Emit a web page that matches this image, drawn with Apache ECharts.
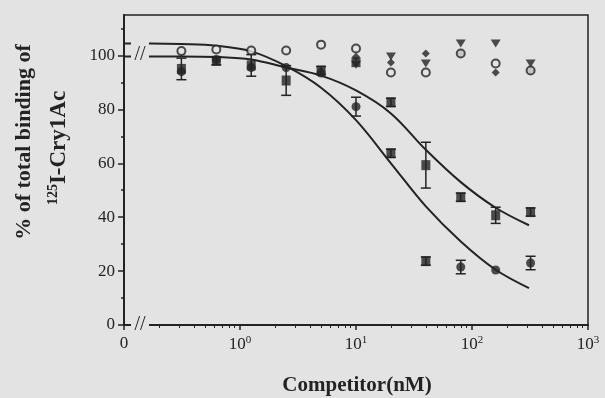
<!DOCTYPE html>
<html>
<head>
<meta charset="utf-8">
<script src="https://cdn.jsdelivr.net/npm/echarts@6/dist/echarts.min.js"></script>
<style>
  html, body { margin: 0; padding: 0; background: #e3e3e3; }
  #chart { width: 605px; height: 398px; }
</style>
</head>
<body>
<div id="chart"></div>
<script>
// competitor concentrations (nM)
const conc = [0.3125, 0.625, 1.25, 2.5, 5, 10, 20, 40, 80, 160, 320];
const openCircles = [101.6, 102.2, 101.8, 101.8, 104, 102.6, 93.7, 93.7, 100.7, 97, 94.4];
const triangles = [null, null, null, null, null, 96.5, 99.6, 97, 104.4, 104.4, 97];
const diamonds = [null, null, null, null, null, 99.5, 97.4, 100.7, 100.7, 93.7, 94.4];
const squares = [95, 98, 96.3, 90.7, 94.4, 97.5, 82.6, 59.3, 47.4, 40.7, 41.9];
const squaresErr = [4, 1.5, 4, 5.5, 1.5, 0, 1.5, 8.5, 1.5, 3, 1.5];
const squaresLow = [null, null, null, null, null, null, 63.7, 23.7, null, null, null];
const squaresLowErr = [0, 0, 0, 0, 0, 0, 1.5, 1.5, 0, 0, 0];
const circles = [94, 98.5, 95.5, 95.5, 93.5, 81, null, null, 21.5, 20.4, 23];
const circlesErr = [0, 0, 0, 0, 0, 3.5, 0, 0, 2.5, 0, 2.5];
// fitted curves
const curveConc = [0.1, 0.17, 0.3125, 0.625, 1.25, 2.5, 5, 10, 20, 40, 80, 160, 310];
const curveSteep = [104.4, 104.4, 104.2, 103.6, 101.5, 96, 88, 76, 60, 44, 31, 20.5, 13.7];
const curveShallow = [99.6, 99.6, 99.6, 99.4, 98.5, 95.5, 92.5, 87, 78.5, 65, 53, 43.5, 37];
const yMajor = [0, 20, 40, 60, 80, 100];
const yMinor = [10, 30, 50, 70, 90, 110];

const ink = '#232323';
const bg = '#e3e3e3';
const serif = '"Liberation Serif", "DejaVu Serif", serif';

const xMinor = [];
[0.1, 1, 10, 100].forEach(d => {
  for (let m = 2; m <= 9; m++) xMinor.push(+(m * d).toPrecision(3));
});

const pairs = (xs, ys) => xs.map((x, i) => [x, ys[i]]).filter(p => p[1] != null);

function errorBars(values, errs) {
  const data = [];
  conc.forEach((c, i) => {
    if (values[i] != null && errs[i] > 0) data.push([c, values[i] - errs[i], values[i] + errs[i]]);
  });
  return {
    type: 'custom',
    data: data,
    z: 3,
    encode: { x: 0, y: [1, 2] },
    renderItem: (params, api) => {
      const lo = api.coord([api.value(0), api.value(1)]);
      const hi = api.coord([api.value(0), api.value(2)]);
      const w = 5;
      const st = { stroke: ink, lineWidth: 1.5 };
      return {
        type: 'group',
        children: [
          { type: 'line', shape: { x1: lo[0], y1: lo[1], x2: hi[0], y2: hi[1] }, style: st },
          { type: 'line', shape: { x1: lo[0] - w, y1: lo[1], x2: lo[0] + w, y2: lo[1] }, style: st },
          { type: 'line', shape: { x1: hi[0] - w, y1: hi[1], x2: hi[0] + w, y2: hi[1] }, style: st }
        ]
      };
    }
  };
}

const chart = echarts.init(document.getElementById('chart'));
chart.setOption({
  backgroundColor: bg,
  animation: false,
  grid: {
    left: 124, right: 17, top: 15, bottom: 73,
    show: true, borderColor: ink, borderWidth: 1.5, backgroundColor: 'transparent'
  },
  xAxis: [
    {
      type: 'log', logBase: 10, min: 0.1, max: 1000,
      axisLine: { lineStyle: { color: ink, width: 2 } },
      axisTick: { length: 5, lineStyle: { color: ink, width: 1.5 } },
      splitLine: { show: false },
      axisLabel: {
        margin: 10,
        formatter: v => {
          const p = Math.round(Math.log10(v));
          return p === -1 ? '{b|0}' : '{b|10}{sup|' + p + '}';
        },
        rich: {
          b: { fontFamily: serif, fontSize: 17, color: ink },
          sup: { fontFamily: serif, fontSize: 11, color: ink, padding: [0, 0, 9, 0] }
        }
      }
    },
    {
      type: 'log', logBase: 10, min: 0.1, max: 1000, position: 'bottom',
      axisLine: { show: false },
      axisLabel: { show: false },
      splitLine: { show: false },
      axisTick: { customValues: xMinor, length: 3, lineStyle: { color: ink, width: 1 } }
    }
  ],
  yAxis: [
    {
      type: 'value', min: 0, max: 115, position: 'left',
      axisLine: { show: true, lineStyle: { color: ink, width: 2 } },
      splitLine: { show: false },
      axisTick: { customValues: yMajor, length: 6, lineStyle: { color: ink, width: 1.5 } },
      axisLabel: { customValues: yMajor, margin: 9, fontFamily: serif, fontSize: 17, color: ink }
    },
    {
      type: 'value', min: 0, max: 115, position: 'left', offset: 0,
      axisLine: { show: false },
      splitLine: { show: false },
      axisLabel: { show: false },
      axisTick: { customValues: yMinor, length: 3, lineStyle: { color: ink, width: 1.5 } }
    }
  ],
  series: [
    {
      type: 'line', data: pairs(curveConc, curveSteep), smooth: 0.35, showSymbol: false, z: 2,
      lineStyle: { color: ink, width: 2 }
    },
    {
      type: 'line', data: pairs(curveConc, curveShallow), smooth: 0.35, showSymbol: false, z: 2,
      lineStyle: { color: ink, width: 2 }
    },
    errorBars(squares, squaresErr),
    errorBars(squaresLow, squaresLowErr),
    errorBars(circles, circlesErr),
    {
      type: 'scatter', data: pairs(conc, squares), symbol: 'rect', symbolSize: [9, 10], z: 4,
      itemStyle: { color: ink }
    },
    {
      type: 'scatter', data: pairs(conc, squaresLow), symbol: 'rect', symbolSize: [9, 10], z: 4,
      itemStyle: { color: ink }
    },
    {
      type: 'scatter', data: pairs(conc, circles), symbol: 'circle', symbolSize: 9, z: 4,
      itemStyle: { color: ink }
    },
    {
      type: 'scatter', data: pairs(conc, triangles), symbol: 'triangle', symbolRotate: 180,
      symbolSize: [10, 8], z: 4, itemStyle: { color: ink }
    },
    {
      type: 'scatter', data: pairs(conc, diamonds), symbol: 'diamond', symbolSize: 8, z: 4,
      itemStyle: { color: ink }
    },
    {
      type: 'scatter', data: pairs(conc, openCircles), symbol: 'circle', symbolSize: 8, z: 5,
      itemStyle: { color: bg, borderColor: ink, borderWidth: 2 }
    }
  ],
  graphic: [
    // axis breaks
    { type: 'rect', z: 100, shape: { x: 131, y: 321, width: 18, height: 8 }, style: { fill: bg } },
    { type: 'text', z: 101, x: 140, y: 325, style: { text: '//', font: '20px ' + serif, fill: ink, textAlign: 'center', textVerticalAlign: 'middle' } },
    { type: 'rect', z: 100, shape: { x: 131, y: 38, width: 18, height: 24 }, style: { fill: bg } },
    { type: 'text', z: 101, x: 140, y: 55, style: { text: '//', font: '20px ' + serif, fill: ink, textAlign: 'center', textVerticalAlign: 'middle' } },
    // axis titles
    {
      type: 'text', z: 101, x: 24, y: 142, rotation: Math.PI / 2,
      style: { text: '% of total binding of', font: 'bold 22px ' + serif, fill: ink, textAlign: 'center', textVerticalAlign: 'middle' }
    },
    {
      type: 'text', z: 101, x: 59, y: 148, rotation: Math.PI / 2,
      style: {
        text: '{sup|125}{b|I-Cry1Ac}', textAlign: 'center', textVerticalAlign: 'middle',
        rich: {
          b: { font: 'bold 23px ' + serif, fill: ink, color: ink },
          sup: { font: 'bold 14px ' + serif, fill: ink, color: ink, padding: [0, 0, 11, 0] }
        }
      }
    },
    {
      type: 'text', z: 101, x: 357, y: 386,
      style: { text: 'Competitor(nM)', font: 'bold 21px ' + serif, fill: ink, textAlign: 'center', textVerticalAlign: 'middle' }
    }
  ]
});
</script>
</body>
</html>
